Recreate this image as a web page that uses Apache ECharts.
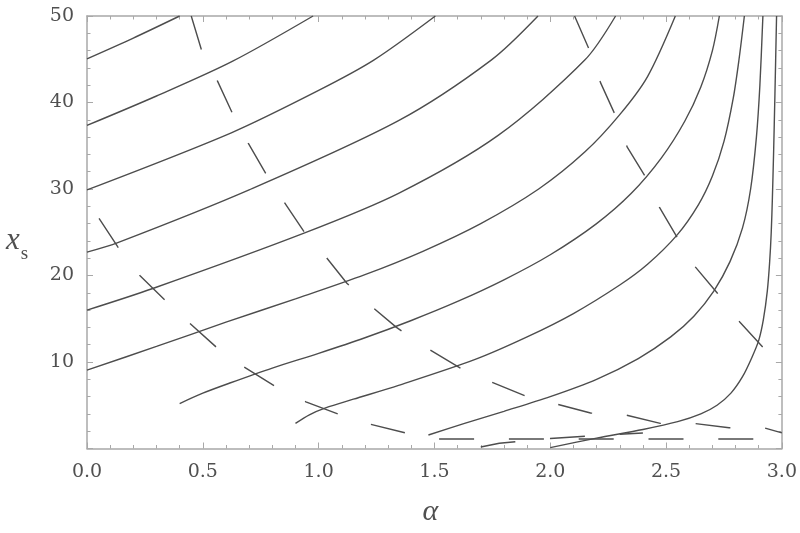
<!DOCTYPE html>
<html><head><meta charset="utf-8">
<script src="https://cdn.jsdelivr.net/npm/echarts@6/dist/echarts.min.js"></script>
<style>html,body{margin:0;padding:0;background:#fff}#c{width:800px;height:533px}</style>
</head><body><div id="c"></div>
<script>
const xTickLabels = ['0.0','0.5','1.0','1.5','2.0','2.5','3.0'];
const yTickLabels = ['10','20','30','40','50'];

// solid contours [alpha, x_s]
const solidC1 = [[0,45.05],[0.2,47.45],[0.4,50]];
const solidC2 = [[0,37.35],[0.3,40.75],[0.627,44.75],[0.976,50]];
const solidC3 = [[0,29.9],[0.623,36.5],[1.0,41.4],[1.238,44.9],[1.504,50]];
const solidC4 = [[0,22.7],[0.133,23.8],[0.7,29.9],[1.345,37.9],[1.745,44.9],[1.947,50]];
const solidC5 = [[0,16.0],[0.284,18.5],[0.937,24.9],[1.345,29.5],[1.775,36.2],[2.149,44.9],[2.282,50]];
const solidC6 = [[0,9.06],[0.3,11.8],[0.6,14.6],[0.9,17.3],[1.2,20.1],[1.45,22.8],[1.7,26.0],[1.95,30.0],[2.15,34.3],[2.3,38.6],[2.42,43.0],[2.54,50]];
const solidC7 = [[0.40,5.2],[0.5,6.4],[0.62,7.6],[0.8,9.3],[1.0,11.0],[1.2,12.8],[1.4,14.8],[1.6,17.0],[1.8,19.5],[2.0,22.4],[2.2,26.0],[2.35,29.5],[2.48,33.6],[2.58,37.8],[2.65,41.8],[2.70,46],[2.73,50]];
const solidC8 = [[0.90,2.9],[0.96,3.9],[1.03,4.7],[1.15,5.7],[1.345,7.3],[1.676,10.3],[1.9,12.9],[2.1,15.6],[2.3,18.9],[2.42,21.3],[2.548,24.7],[2.64,28.2],[2.70,31.5],[2.75,35.5],[2.79,40.5],[2.815,45],[2.838,50]];
const solidC9 = [[1.474,1.56],[1.63,2.9],[1.80,4.3],[2.0,6.0],[2.2,8.0],[2.38,10.4],[2.52,12.9],[2.62,15.3],[2.706,18.2],[2.776,21.6],[2.83,25.5],[2.865,30],[2.89,36],[2.905,42],[2.918,50]];
const solidC10 = [[2.0,0.1],[2.2,1.2],[2.4,2.2],[2.55,3.1],[2.65,4.0],[2.72,5.0],[2.78,6.4],[2.83,8.3],[2.87,10.5],[2.90,12.5],[2.92,14.9],[2.937,18.2],[2.947,21.5],[2.954,25],[2.959,29],[2.964,34],[2.97,41],[2.977,50]];

// dashed contours
const dashD1 = [[0.450,50.0],[0.494,46.1],[0.563,42.5],[0.627,38.8],[0.696,35.3],[0.774,31.7],[0.851,28.5],[0.941,24.9],[1.036,22.0],[1.122,19.1],[1.238,16.2],[1.336,14.0],[1.474,11.5],[1.612,9.3],[1.745,7.7],[1.891,6.1],[2.033,5.1],[2.174,4.1],[2.321,3.9],[2.475,2.9],[2.621,2.9],[2.772,2.4],[2.922,2.4],[3.0,1.8]];
const dashD2 = [[0.052,26.6],[0.133,23.3],[0.228,20.0],[0.339,17.1],[0.443,14.5],[0.559,11.7],[0.679,9.4],[0.812,7.2],[0.945,5.4],[1.083,4.0],[1.225,2.8],[1.375,1.8],[1.517,1.1],[3.0,1.1]];
const dashD3 = [[2.105,50.0],[2.170,46.0],[2.217,42.3],[2.278,38.7],[2.333,34.8],[2.411,31.4],[2.471,27.9],[2.548,24.4],[2.626,21.0],[2.720,18.0],[2.819,14.6],[2.922,11.6]];
const dashD5 = [[1.70,0.17],[1.78,0.6],[2.0,1.15],[2.2,1.5],[2.4,1.8]];

const solids = [solidC1,solidC2,solidC3,solidC4,solidC5,solidC6,solidC7,solidC8,solidC9,solidC10];
const dashes = [dashD1,dashD2,dashD3,dashD5];

const LINE = '#4d4d4d';
const FRAME = '#a8a8a8';
const LABEL = '#505050';
const FONT = 'DejaVu Serif';
const NAMEFONT = 'Liberation Serif';

const series = [];
solids.forEach((d,i)=>series.push({
  name:'solid'+(i+1), type:'line', data:d, showSymbol:false, symbol:'none',
  smooth:0.3, lineStyle:{color:LINE,width:1.4}, silent:true, z:3
}));
dashes.forEach((d,i)=>series.push({
  name:'dash'+(i+1), type:'line', data:d, showSymbol:false, symbol:'none',
  smooth:false, lineStyle:{color:LINE,width:1.4,type:[35,34.8]}, silent:true, z:3
}));

function xAxisDef(pos, labels){
  return {
    type:'value', min:0, max:3, interval:0.5, position:pos,
    axisLine:{show:true,onZero:false,lineStyle:{color:FRAME,width:1.5}},
    axisTick:{show:true,inside:true,length:6,lineStyle:{color:FRAME,width:1}},
    minorTick:{show:true,splitNumber:5,length:3.5,lineStyle:{color:FRAME,width:1}},
    splitLine:{show:false},
    axisLabel:{show:labels,margin:14,color:LABEL,fontFamily:FONT,fontSize:19,
      formatter:v=>xTickLabels[Math.round(v/0.5)]},
    name: labels ? 'α' : '',
    nameLocation:'middle', nameGap:64,
    nameTextStyle:{fontFamily:NAMEFONT,fontStyle:'italic',fontSize:30,color:LABEL,align:'center',verticalAlign:'middle',padding:[0,8,0,0]}
  };
}
function yAxisDef(pos, labels){
  return {
    type:'value', min:0, max:50, interval:10, position:pos,
    axisLine:{show:true,onZero:false,lineStyle:{color:FRAME,width:1.5}},
    axisTick:{show:true,inside:true,length:6,lineStyle:{color:FRAME,width:1}},
    minorTick:{show:true,splitNumber:5,length:3.5,lineStyle:{color:FRAME,width:1}},
    splitLine:{show:false},
    axisLabel:{show:labels,margin:13,color:LABEL,fontFamily:FONT,fontSize:19,
      formatter:v=> v===0 ? '' : yTickLabels[Math.round(v/10)-1]},
    name: labels ? '{x|x}{s|s}' : '',
    nameLocation:'middle', nameGap:70, nameRotate:0,
    nameTextStyle:{align:'center',verticalAlign:'middle',padding:[16,0,0,0],
      rich:{
        x:{fontFamily:NAMEFONT,fontStyle:'italic',fontSize:31,color:LABEL,verticalAlign:'bottom',lineHeight:32},
        s:{fontFamily:NAMEFONT,fontSize:19,color:LABEL,verticalAlign:'bottom',lineHeight:32,padding:[0,0,-7,1]}
      }}
  };
}

const chart = echarts.init(document.getElementById('c'), null, {renderer:'canvas'});
chart.setOption({
  animation:false,
  backgroundColor:'#ffffff',
  grid:{left:87,right:15,top:16,bottom:84.5,containLabel:false},
  xAxis:[xAxisDef('bottom',true), xAxisDef('top',false)],
  yAxis:[yAxisDef('left',true), yAxisDef('right',false)],
  series: series
});
</script>
</body></html>
